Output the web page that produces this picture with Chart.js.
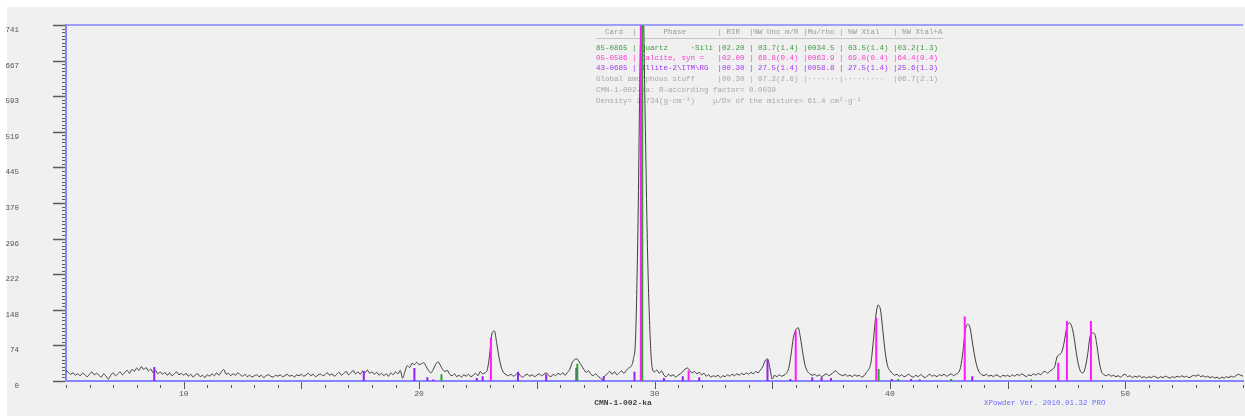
<!DOCTYPE html>
<html>
<head>
<meta charset="utf-8">
<title>CMN-1-002-ka</title>
<script src="https://cdn.jsdelivr.net/npm/chart.js@4.4.1/dist/chart.umd.min.js"></script>
<style>
  html, body { margin: 0; padding: 0; background: #ffffff; }
  canvas { display: block; }
</style>
</head>
<body>
<canvas id="xrd-chart" width="1245" height="416"></canvas>
<script>
// observed pattern, 2theta 5..55 every 0.1 deg
const angleStart = 5.0;
const angleStep = 0.1;

const counts05 = [22, 18, 14, 17, 12, 15, 11, 16, 13, 9,
                  14, 19, 13, 16, 12, 8, 15, 10, 4, 12,
                  17, 11, 15, 19, 13, 18, 22, 16, 24, 20,
                  27, 22, 30, 24, 28, 21, 25, 17, 22, 15,
                  19, 14, 18, 12, 17, 11, 15, 19, 13, 16];
const counts10 = [12, 16, 10, 14, 8, 13, 15, 9, 12, 7,
                  13, 10, 15, 11, 17, 12, 19, 24, 14, 16,
                  11, 15, 12, 17, 13, 10, 14, 9, 12, 8,
                  11, 13, 9, 12, 7, 11, 13, 10, 8, 12,
                  10, 13, 9, 11, 14, 10, 12, 8, 13, 11];
const counts15 = [14, 10, 13, 16, 11, 14, 9, 12, 15, 11,
                  13, 17, 12, 15, 10, 14, 18, 12, 16, 20,
                  13, 17, 22, 15, 19, 14, 21, 17, 23, 16,
                  19, 14, 18, 12, 16, 11, 15, 10, 17, 13,
                  19, 15, 22, 6, 20, 32, 28, 37, 34, 39];
const counts20 = [34, 36, 38, 30, 22, 17, 24, 34, 40, 33,
                  24, 20, 22, 14, 11, 15, 9, 12, 8, 13,
                  10, 14, 9, 12, 16, 11, 20, 15, 17, 24,
                  56, 100, 104, 78, 48, 27, 17, 13, 11, 14,
                  10, 13, 17, 11, 8, 12, 14, 10, 13, 9];
const counts25 = [12, 15, 11, 14, 17, 12, 9, 14, 11, 16,
                  13, 17, 12, 18, 24, 38, 44, 46, 40, 32,
                  24, 18, 21, 14, 11, 15, 10, 6, 3, 11,
                  15, 20, 14, 19, 13, 17, 21, 16, 22, 27,
                  30, 45, 95, 330, 700, 820, 560, 280, 110, 28];
const counts30 = [19, 23, 16, 21, 12, 9, 14, 10, 13, 8,
                  12, 15, 19, 25, 27, 22, 17, 20, 15, 18,
                  13, 16, 10, 13, 8, 11, 9, 12, 7, 11,
                  9, 13, 10, 14, 11, 15, 12, 16, 13, 17,
                  14, 18, 15, 20, 17, 23, 30, 42, 46, 28];
const counts35 = [4, 12, 9, 13, 10, 12, 16, 26, 55, 90,
                  106, 111, 90, 58, 32, 20, 15, 12, 14, 10,
                  13, 9, 12, 15, 11, 14, 18, 21, 16, 13,
                  11, 14, 10, 12, 9, 13, 10, 12, 8, 11,
                  18, 24, 40, 85, 135, 158, 148, 105, 60, 32];
const counts40 = [22, 16, 12, 14, 10, 13, 9, 11, 14, 10,
                  8, 12, 9, 13, 10, 7, 11, 14, 10, 12,
                  9, 13, 11, 14, 10, 12, 15, 11, 14, 17,
                  28, 60, 105, 118, 112, 82, 52, 30, 18, 13,
                  11, 14, 10, 12, 9, 13, 11, 8, 12, 10];
const counts45 = [12, 9, 13, 10, 14, 11, 15, 12, 9, 13,
                  11, 15, 12, 16, 13, 18, 20, 16, 21, 24,
                  30, 50, 55, 60, 80, 108, 121, 117, 98, 65,
                  36, 20, 17, 28, 55, 92, 100, 98, 72, 38,
                  18, 13, 11, 14, 10, 12, 9, 11, 8, 12];
const counts50 = [14, 9, 11, 7, 10, 8, 11, 7, 9, 6,
                  9, 7, 10, 8, 6, 9, 7, 10, 8, 6,
                  9, 7, 10, 8, 11, 8, 10, 7, 9, 12,
                  10, 13, 9, 11, 8, 10, 7, 9, 6, 8,
                  5, 8, 6, 9, 7, 10, 8, 11, 14, 12, 10];

// reference lines of the three phases
const calciteAngles  = [23.05, 29.42, 31.45, 36.0, 39.42, 43.18, 47.15, 47.52, 48.54];
const calciteHeights = [90, 800, 22, 104, 132, 134, 38, 125, 125];
const quartzAngles   = [20.95, 26.72, 29.48, 39.52, 40.35, 42.6, 46.0];
const quartzHeights  = [14, 36, 800, 25, 4, 4, 3];
const illiteAngles   = [8.75, 17.65, 19.8, 20.35, 20.6, 22.45, 22.7, 24.2, 25.4, 26.68, 27.84,
                        29.15, 30.4, 31.2, 31.9, 34.8, 35.77, 36.7, 37.1, 37.5, 40.08, 40.9, 41.27, 43.5];
const illiteHeights  = [29, 21, 27, 8, 3, 6, 10, 19, 14, 27, 10,
                        19, 6, 10, 8, 44, 4, 8, 8, 6, 4, 4, 3, 10];

const xMin = 5, xMax = 55;
const yMax = 741;
const xTickValues = [10, 20, 30, 40, 50];
const yTickLabels = ['0', '74', '148', '222', '296', '370', '445', '519', '593', '667', '741'];

const tableRows = [
  ['  Card  |      Phase       | RIR  |%W Unc m/R |Mu/rho | %W Xtal   | %W Xtal+A', '#9a9a9a'],
  ['85-0865 | Quartz     \u00b7Sili |02.20 | 03.7(1.4) |0034.5 | 03.5(1.4) |03.2(1.3)', '#3f9a3f'],
  ['05-0586 | Calcite, syn =   |02.00 | 68.8(0.4) |0063.9 | 69.0(0.4) |64.4(0.4)', '#ff3ad4'],
  ['43-0685 | Illite-2\\ITM\\RG  |00.30 | 27.5(1.4) |0058.8 | 27.5(1.4) |25.6(1.3)', '#a238f0'],
  ['Global amorphous stuff     |00.30 | 07.2(2.6) |\u00b7\u00b7\u00b7\u00b7\u00b7\u00b7\u00b7|\u00b7\u00b7\u00b7\u00b7\u00b7\u00b7\u00b7\u00b7\u00b7  |06.7(2.1)', '#a8a8a8'],
  ['CMN-1-002-ka: R-according factor= 0.0039', '#a8a8a8'],
  ['Density= 2.734(g\u00b7cm\u207b\u00b3)    \u03bc/Dx of the mixture= 61.4 cm\u00b2\u00b7g\u207b\u00b9', '#a8a8a8']
];
const tableRowY = [32, 47.7, 58, 68.3, 79, 90, 101];

const axisBlue = '#8585ff';
const monoFont = '"Liberation Mono", "DejaVu Sans Mono", monospace';

const patternCounts = [].concat(counts05, counts10, counts15, counts20, counts25,
                                counts30, counts35, counts40, counts45, counts50);
const patternPoints = patternCounts.map((c, i) => ({ x: +(angleStart + i * angleStep).toFixed(2), y: c }));

function stickPoints(angles, heights) {
  const pts = [];
  angles.forEach((a, i) => {
    pts.push({ x: a, y: 0 }, { x: a, y: heights[i] }, { x: a, y: null });
  });
  return pts;
}

function stickSet(label, angles, heights, color) {
  return {
    label: label,
    data: stickPoints(angles, heights),
    borderColor: color,
    borderWidth: 2,
    pointRadius: 0,
    spanGaps: false,
    tension: 0,
    order: 1
  };
}

function line(c, x1, y1, x2, y2) {
  c.beginPath();
  c.moveTo(x1, y1);
  c.lineTo(x2, y2);
  c.stroke();
}

// no automatic label padding, the plot box is fixed by layout.padding
function noScalePadding(s) {
  s.paddingTop = 0;
  s.paddingBottom = 0;
  s.paddingLeft = 0;
  s.paddingRight = 0;
}

const xrdFrame = {
  id: 'xrdFrame',
  beforeDraw(chart) {
    const c = chart.ctx;
    c.save();
    c.fillStyle = '#ffffff';
    c.fillRect(0, 0, chart.width, chart.height);
    c.fillStyle = '#f0f0f0';
    c.fillRect(7, 7, chart.width - 7, chart.height - 7);
    c.restore();
  },
  beforeDatasetsDraw(chart) {
    // phase table
    const c = chart.ctx;
    c.save();
    c.font = '7.5px ' + monoFont;
    c.textBaseline = 'middle';
    c.textAlign = 'left';
    tableRows.forEach((r, i) => {
      c.fillStyle = r[1];
      c.fillText(r[0], 596, tableRowY[i]);
    });
    c.strokeStyle = '#c4c4c4';
    c.lineWidth = 1;
    line(c, 596, 38.5, 943, 38.5);
    c.restore();
  },
  afterDraw(chart) {
    const c = chart.ctx;
    const xs = chart.scales.x, ys = chart.scales.y;
    const area = chart.chartArea;
    c.save();
    c.strokeStyle = axisBlue;
    c.lineWidth = 1.5;
    line(c, area.left, area.top, area.right, area.top);

    c.strokeStyle = '#5a5a5a';
    c.lineWidth = 1.5;
    yTickLabels.forEach((t, i) => {
      const py = Math.round(ys.getPixelForValue(yMax * i / (yTickLabels.length - 1))) + 0.5;
      line(c, 53, py, area.left - 1, py);
    });
    c.lineWidth = 1;
    for (let k = 0; k <= 100; k++) {
      const py = Math.round(ys.getPixelForValue(yMax * k / 100)) + 0.5;
      line(c, 62, py, area.left - 1, py);
    }
    for (let d = xMin; d <= xMax; d++) {
      const px = Math.round(xs.getPixelForValue(d)) + 0.5;
      if (d % 5 === 0 && d > xMin && d < xMax) {
        line(c, px, area.bottom + 1, px, area.bottom + 8);
      } else {
        line(c, px, area.bottom + 4, px, area.bottom + 7);
      }
    }

    c.textBaseline = 'middle';
    c.textAlign = 'center';
    c.font = 'bold 8px ' + monoFont;
    c.fillStyle = '#444444';
    c.fillText('CMN-1-002-ka', 623, 403);
    c.font = '7.5px ' + monoFont;
    c.fillStyle = '#6b6bff';
    c.textAlign = 'left';
    c.fillText('XPowder Ver. 2010.01.32 PRO', 984, 403);
    c.restore();
  }
};

const ctx = document.getElementById('xrd-chart');
const chart = new Chart(ctx, {
  type: 'line',
  data: {
    datasets: [
      stickSet('Calcite', calciteAngles, calciteHeights, '#ff1aff'),
      stickSet('Quartz', quartzAngles, quartzHeights, '#2aa52a'),
      stickSet('Illite', illiteAngles, illiteHeights, '#9420f5'),
      {
        label: 'CMN-1-002-ka',
        data: patternPoints,
        borderColor: '#3c3c3c',
        borderWidth: 1,
        pointRadius: 0,
        cubicInterpolationMode: 'monotone',
        order: 3
      }
    ]
  },
  options: {
    responsive: false,
    animation: false,
    layout: { padding: { top: 25, right: 2, left: 0, bottom: 0 } },
    plugins: {
      legend: { display: false },
      tooltip: { enabled: false }
    },
    scales: {
      x: {
        type: 'linear',
        min: xMin,
        max: xMax,
        afterBuildTicks: s => { s.ticks = xTickValues.map(v => ({ value: v })); },
        afterFit: s => { s.height = 35; noScalePadding(s); },
        grid: { display: false },
        border: { color: axisBlue, width: 2 },
        ticks: {
          padding: 0,
          maxRotation: 0,
          autoSkip: false,
          color: '#555555',
          font: { family: monoFont, size: 8 },
          callback: v => String(v)
        }
      },
      y: {
        min: 0,
        max: yMax,
        afterBuildTicks: s => {
          s.ticks = yTickLabels.map((t, i) => ({ value: yMax * i / (yTickLabels.length - 1) }));
        },
        afterFit: s => { s.width = 66; noScalePadding(s); },
        grid: { display: false },
        border: { color: axisBlue, width: 2 },
        ticks: {
          padding: 39,
          labelOffset: 5,
          autoSkip: false,
          color: '#555555',
          font: { family: monoFont, size: 7.5 },
          callback: (v, i) => yTickLabels[i]
        }
      }
    }
  },
  plugins: [xrdFrame]
});
</script>
</body>
</html>
